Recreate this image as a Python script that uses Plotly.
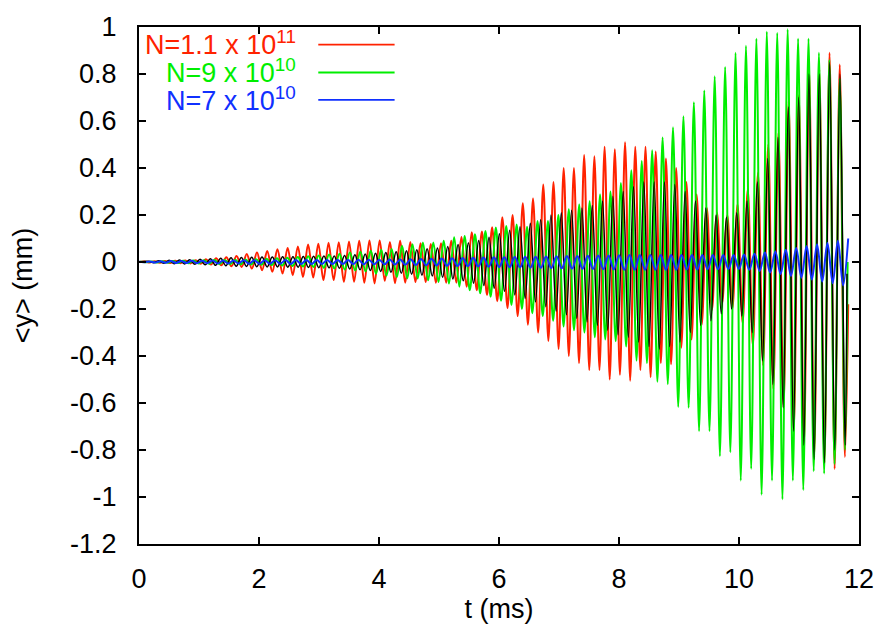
import plotly.graph_objects as go

# ---------------- data ----------------
# Each series: extrema of the oscillation, one positive peak and one negative
# trough per cycle.  Peak k occurs at T0 + k*PERIOD (ms), trough half a period later.

RED_T0, RED_PERIOD = 0.092, 0.1704
RED_PEAKS = [0.002, 0.003, 0.004, 0.005, 0.006, 0.007, 0.012, 0.016, 0.020, 0.026,
             0.034, 0.040, 0.047, 0.054, 0.060, 0.066, 0.074, 0.078, 0.082, 0.084,
             0.087, 0.090, 0.092, 0.092, 0.085, 0.090, 0.085, 0.080, 0.077, 0.080,
             0.090, 0.106, 0.127, 0.130, 0.148, 0.190, 0.200, 0.250, 0.270, 0.330,
             0.340, 0.400, 0.400, 0.455, 0.450, 0.490, 0.480, 0.510, 0.490, 0.490,
             0.470, 0.440, 0.400, 0.340, 0.287, 0.230, 0.210, 0.200, 0.245, 0.310,
             0.380, 0.500, 0.550, 0.685, 0.710, 0.825, 0.820, 0.890, 0.840]
RED_TROUGHS = [0.002, 0.003, 0.004, 0.005, 0.006, 0.007, 0.011, 0.014, 0.018, 0.021,
               0.028, 0.035, 0.042, 0.049, 0.056, 0.063, 0.066, 0.077, 0.077, 0.084,
               0.084, 0.088, 0.091, 0.080, 0.090, 0.088, 0.085, 0.085, 0.088, 0.088,
               0.088, 0.105, 0.120, 0.140, 0.167, 0.196, 0.230, 0.267, 0.300, 0.336,
               0.370, 0.400, 0.430, 0.460, 0.460, 0.500, 0.480, 0.505, 0.460, 0.490,
               0.430, 0.435, 0.365, 0.330, 0.267, 0.204, 0.176, 0.197, 0.260, 0.357,
               0.440, 0.540, 0.620, 0.720, 0.780, 0.830, 0.855, 0.880, 0.830]
RED_END = (11.82, -0.18)

GREEN_T0, GREEN_PERIOD = 0.0415, 0.1737
GREEN_PEAKS = [0.001, 0.002, 0.003, 0.004, 0.005, 0.006, 0.007, 0.008, 0.009, 0.010,
               0.011, 0.012, 0.014, 0.016, 0.018, 0.021, 0.024, 0.028, 0.032, 0.035,
               0.040, 0.044, 0.048, 0.052, 0.055, 0.069, 0.076, 0.083, 0.083, 0.090,
               0.105, 0.111, 0.118, 0.132, 0.147, 0.153, 0.160, 0.150, 0.174, 0.174,
               0.200, 0.224, 0.245, 0.258, 0.287, 0.300, 0.336, 0.390, 0.430, 0.475,
               0.530, 0.573, 0.620, 0.680, 0.730, 0.790, 0.830, 0.890, 0.920, 0.950,
               0.980, 0.975, 0.990, 0.950, 0.950, 0.890, 0.860, 0.780]
GREEN_TROUGHS = [0.001, 0.002, 0.003, 0.004, 0.005, 0.006, 0.007, 0.008, 0.009, 0.010,
                 0.011, 0.012, 0.013, 0.015, 0.017, 0.019, 0.021, 0.025, 0.028, 0.032,
                 0.036, 0.040, 0.050, 0.058, 0.064, 0.070, 0.070, 0.078, 0.085, 0.092,
                 0.105, 0.120, 0.133, 0.148, 0.165, 0.183, 0.200, 0.218, 0.230, 0.250,
                 0.274, 0.290, 0.300, 0.320, 0.330, 0.337, 0.360, 0.420, 0.430, 0.510,
                 0.520, 0.617, 0.620, 0.720, 0.720, 0.827, 0.810, 0.930, 0.880, 0.990,
                 0.930, 1.010, 0.930, 0.970, 0.890, 0.900, 0.860, 0.800]
GREEN_END = (11.81, 0.0)

BLACK_T0, BLACK_PERIOD = 0.158, 0.1720
BLACK_PEAKS = [0.003, 0.005, 0.007, 0.008, 0.010, 0.012, 0.014, 0.016, 0.018, 0.019,
               0.020, 0.021, 0.021, 0.022, 0.022, 0.023, 0.024, 0.025, 0.026, 0.028,
               0.031, 0.034, 0.037, 0.040, 0.044, 0.048, 0.052, 0.056, 0.060, 0.066,
               0.074, 0.082, 0.092, 0.105, 0.120, 0.135, 0.150, 0.165, 0.180, 0.200,
               0.210, 0.220, 0.230, 0.240, 0.260, 0.280, 0.300, 0.320, 0.340, 0.340,
               0.340, 0.330, 0.300, 0.260, 0.230, 0.200, 0.190, 0.210, 0.260, 0.340,
               0.440, 0.530, 0.660, 0.700, 0.800, 0.800, 0.850, 0.800]
BLACK_TROUGHS = [0.003, 0.005, 0.007, 0.008, 0.010, 0.012, 0.014, 0.016, 0.018, 0.019,
                 0.020, 0.021, 0.021, 0.022, 0.022, 0.023, 0.024, 0.025, 0.027, 0.030,
                 0.033, 0.036, 0.040, 0.044, 0.048, 0.052, 0.056, 0.060, 0.065, 0.072,
                 0.080, 0.090, 0.100, 0.112, 0.125, 0.140, 0.155, 0.170, 0.190, 0.210,
                 0.225, 0.240, 0.255, 0.270, 0.290, 0.310, 0.320, 0.340, 0.360, 0.370,
                 0.360, 0.340, 0.300, 0.270, 0.250, 0.220, 0.200, 0.230, 0.300, 0.420,
                 0.520, 0.620, 0.720, 0.780, 0.840, 0.855, 0.800, 0.780]
BLACK_END = (11.80, -0.05)

BLUE_T0, BLUE_PERIOD = 0.01, 0.1737
BLUE_PEAKS = [0.001, 0.002, 0.003, 0.004, 0.004, 0.005, 0.005, 0.006, 0.006, 0.006,
              0.007, 0.007, 0.007, 0.007, 0.008, 0.008, 0.008, 0.008, 0.009, 0.009,
              0.009, 0.010, 0.010, 0.010, 0.011, 0.011, 0.012, 0.013, 0.014, 0.015,
              0.016, 0.017, 0.018, 0.019, 0.020, 0.020, 0.021, 0.022, 0.022, 0.023,
              0.024, 0.025, 0.026, 0.027, 0.028, 0.028, 0.029, 0.030, 0.030, 0.030,
              0.030, 0.030, 0.030, 0.030, 0.030, 0.030, 0.030, 0.030, 0.032, 0.035,
              0.040, 0.045, 0.052, 0.060, 0.068, 0.075, 0.082, 0.090]
BLUE_TROUGHS = [0.001, 0.002, 0.003, 0.004, 0.004, 0.005, 0.005, 0.006, 0.006, 0.006,
                0.007, 0.007, 0.007, 0.007, 0.008, 0.008, 0.008, 0.008, 0.009, 0.009,
                0.009, 0.010, 0.010, 0.010, 0.011, 0.012, 0.013, 0.014, 0.015, 0.016,
                0.017, 0.018, 0.019, 0.020, 0.021, 0.022, 0.023, 0.024, 0.025, 0.026,
                0.027, 0.028, 0.029, 0.030, 0.031, 0.032, 0.033, 0.033, 0.033, 0.033,
                0.033, 0.033, 0.032, 0.032, 0.031, 0.031, 0.030, 0.030, 0.033, 0.038,
                0.045, 0.052, 0.060, 0.067, 0.075, 0.083, 0.090, 0.100]
BLUE_END = (11.82, 0.10)

LEGEND_LABELS = ["N=1.1 x 10<sup>11</sup>", "N=9 x 10<sup>10</sup>", "N=7 x 10<sup>10</sup>"]
X_TICKS = [0, 2, 4, 6, 8, 10, 12]
Y_TICKS = [-1.2, -1.0, -0.8, -0.6, -0.4, -0.2, 0.0, 0.2, 0.4, 0.6, 0.8, 1.0]
Y_TICKTEXT = ["-1.2", "-1", "-0.8", "-0.6", "-0.4", "-0.2", "0", "0.2", "0.4", "0.6", "0.8", "1"]

RED, GREEN, BLUE, BLACK = "#ff2200", "#00ee00", "#1030ff", "#000000"
FONT = "Liberation Sans, Arial, Helvetica, sans-serif"
FS = 27


def build(t0, period, peaks, troughs, end):
    t, y = [0.0], [0.0]
    for k, (p, q) in enumerate(zip(peaks, troughs)):
        tp = t0 + k * period
        t += [tp, tp + period / 2]
        y += [p, -q]
    t.append(end[0])
    y.append(end[1])
    return t, y


fig = go.Figure()
series = [
    (RED_T0, RED_PERIOD, RED_PEAKS, RED_TROUGHS, RED_END, RED, 2.0),
    (GREEN_T0, GREEN_PERIOD, GREEN_PEAKS, GREEN_TROUGHS, GREEN_END, GREEN, 2.0),
    (BLACK_T0, BLACK_PERIOD, BLACK_PEAKS, BLACK_TROUGHS, BLACK_END, BLACK, 1.5),
    (BLUE_T0, BLUE_PERIOD, BLUE_PEAKS, BLUE_TROUGHS, BLUE_END, BLUE, 2.0),
]
for t0, per, pk, tr, end, col, w in series:
    tx, ty = build(t0, per, pk, tr, end)
    fig.add_trace(go.Scatter(x=tx, y=ty, mode="lines",
                             line=dict(color=col, width=w, shape="spline", smoothing=1.0),
                             showlegend=False, hoverinfo="skip"))

# manual legend (text right-aligned, sample line to the right)
leg_text_y = [0.970, 0.915, 0.861]
leg_line_y = [0.966, 0.912, 0.859]
for lab, col, ty, ly in zip(LEGEND_LABELS, [RED, GREEN, BLUE], leg_text_y, leg_line_y):
    fig.add_annotation(x=0.2215, y=ty, xref="paper", yref="paper", text=lab,
                       xanchor="right", yanchor="middle", showarrow=False,
                       font=dict(family=FONT, size=FS, color=col))
    fig.add_shape(type="line", xref="paper", yref="paper", x0=0.249, x1=0.355,
                  y0=ly, y1=ly, line=dict(color=col, width=1.8))

axis_common = dict(showline=True, linecolor="black", linewidth=2, mirror="ticks",
                   ticks="inside", ticklen=7, tickwidth=1.5, tickcolor="black",
                   showgrid=False, zeroline=False,
                   tickfont=dict(family=FONT, size=FS, color="black"))

fig.update_xaxes(range=[0, 12], tickvals=X_TICKS, ticklabelstandoff=10,
                 title=dict(text="t (ms)", font=dict(family=FONT, size=FS, color="black"), standoff=4),
                 **axis_common)
fig.update_yaxes(range=[-1.2, 1.0], tickvals=Y_TICKS, ticktext=Y_TICKTEXT, ticklabelstandoff=15,
                 title=dict(text="&lt;y&gt; (mm)", font=dict(family=FONT, size=FS, color="black"), standoff=30),
                 **axis_common)

fig.update_layout(width=886, height=634, margin=dict(l=139, r=20, t=20, b=90),
                  plot_bgcolor="white", paper_bgcolor="white")

fig.write_html("out.html")
